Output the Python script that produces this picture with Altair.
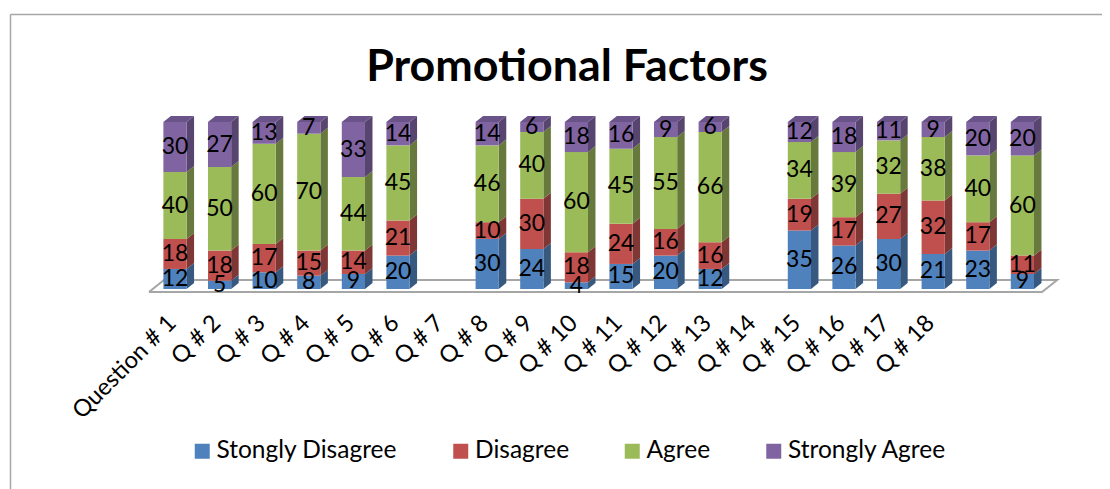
import altair as alt
import pandas as pd

categories = ["Question # 1", "Q # 2", "Q # 3", "Q # 4", "Q # 5", "Q # 6", "Q # 7", "Q # 8", "Q # 9",
              "Q # 10", "Q # 11", "Q # 12", "Q # 13", "Q # 14", "Q # 15", "Q # 16", "Q # 17", "Q # 18"]
series_names = ["Stongly Disagree", "Disagree", "Agree", "Strongly Agree"]
strongly_disagree = [12, 5, 10, 8, 9, 20, None, 30, 24, 4, 15, 20, 12, None, 35, 26, 30, 21, 23, 9]
disagree = [18, 18, 17, 15, 14, 21, None, 10, 30, 18, 24, 16, 16, None, 19, 17, 27, 32, 17, 11]
agree = [40, 50, 60, 70, 44, 45, None, 46, 40, 60, 45, 55, 66, None, 34, 39, 32, 38, 40, 60]
strongly_agree = [30, 27, 13, 7, 33, 14, None, 14, 6, 18, 16, 9, 6, None, 12, 18, 11, 9, 20, 20]
all_series = [strongly_disagree, disagree, agree, strongly_agree]

front_colors = ["#4f81bd", "#c0504d", "#9bbb59", "#8064a2"]
side_colors = ["#38597f", "#7f3735", "#67793c", "#57446f"]
top_color = "#6a5388"
GRAY = "#a6a6a6"
FONT = "Lato"

HALF = 0.26     # half a bar's width, in category slots
DX = 0.168      # depth of the bars, in slots
DY = 3.6        # depth of the bars, in value units

fronts, sides, tops = [], [], []
for k, name in enumerate(series_names):
    for i, v in enumerate(all_series[k]):
        if v is None:
            continue
        b = sum(all_series[j][i] for j in range(k))
        t = b + v
        l, r = i - HALF, i + HALF
        fronts.append({"series": name, "l": l, "r": r, "b": b, "t": t, "mid": (b + t) / 2, "i": i, "v": v})
        sid = f"s{k}-{i}"
        sides.append({"id": sid, "c": side_colors[k], "x": r, "y": b, "y2": t})
        sides.append({"id": sid, "c": side_colors[k], "x": r + DX, "y": b + DY, "y2": t + DY})
        if k == len(series_names) - 1:
            tid = f"t{i}"
            tops.append({"id": tid, "x": l, "y": t, "y2": t})
            tops.append({"id": tid, "x": l + DX, "y": t, "y2": t + DY})
            tops.append({"id": tid, "x": r, "y": t, "y2": t + DY})
            tops.append({"id": tid, "x": r + DX, "y": t + DY, "y2": t + DY})

floor_x = [-0.583, 19.44, 19.78, -0.247, -0.583]
floor_y = [-1.8, -1.8, 5.4, 5.4, -1.8]
floor = pd.DataFrame({"x": floor_x, "y": floor_y, "o": range(5)})

X = alt.Scale(domain=[-3.744, 20.785], nice=False, zero=False)
Y = alt.Scale(domain=[-5.39, 107.19], nice=False, zero=False)
label_js = "[" + ",".join(f"'{c}'" for c in categories) + "][datum.value]"

floor_line = alt.Chart(floor).mark_line(color=GRAY, strokeWidth=2, strokeJoin="miter").encode(
    x=alt.X("x:Q", scale=X, axis=alt.Axis(
        values=list(range(len(categories))), labelExpr=label_js, title=None, grid=False, domain=False,
        ticks=False, labelAngle=-45, labelAlign="right", labelBaseline="middle", labelFont=FONT,
        labelFontSize=23.6, labelColor="black", labelPadding=21, labelOffset=-3, labelOverlap=False,
        labelBound=False, labelFlush=False)),
    y=alt.Y("y:Q", scale=Y, axis=None),
    order="o:Q",
)

side_faces = alt.Chart(pd.DataFrame(sides)).mark_area(interpolate="linear").encode(
    x=alt.X("x:Q", scale=X), y=alt.Y("y:Q", scale=Y), y2="y2:Q", detail="id:N",
    fill=alt.Fill("c:N", scale=None, legend=None),
)
top_faces = alt.Chart(pd.DataFrame(tops)).mark_area(interpolate="linear", color=top_color).encode(
    x=alt.X("x:Q", scale=X), y=alt.Y("y:Q", scale=Y), y2="y2:Q", detail="id:N",
)
front_df = pd.DataFrame(fronts)
front_faces = alt.Chart(front_df).mark_rect().encode(
    x=alt.X("l:Q", scale=X), x2="r:Q", y=alt.Y("b:Q", scale=Y), y2="t:Q",
    color=alt.Color("series:N", scale=alt.Scale(domain=series_names, range=front_colors), legend=alt.Legend(
        orient="none", legendX=182, legendY=329, direction="horizontal", title=None, symbolType="square",
        symbolSize=225, symbolStrokeWidth=0, labelFont=FONT, labelFontSize=24.5, labelColor="black",
        columnPadding=50.5, labelOffset=2, gridAlign="none", labelLimit=400)),
)
labels = alt.Chart(front_df).mark_text(font=FONT, fontSize=23, color="black").encode(
    x=alt.X("i:Q", scale=X), y=alt.Y("mid:Q", scale=Y), text="v:Q",
)

frame_left = alt.Chart(pd.DataFrame({"a": [0]})).mark_rule(color=GRAY, strokeWidth=1.5).encode(
    x=alt.value(2.5), y=alt.value(-95.5), y2=alt.value(400))
frame_top = alt.Chart(pd.DataFrame({"a": [0]})).mark_rule(color=GRAY, strokeWidth=1.5).encode(
    x=alt.value(2.5), x2=alt.value(1094), y=alt.value(-95.5))

chart = alt.layer(frame_left, frame_top, floor_line, side_faces, top_faces, front_faces, labels).properties(
    width=1094, height=188,
    padding={"left": 0, "right": 0, "top": 102, "bottom": 191},
    autosize=alt.AutoSizeParams(type="none", contains="content"),
    title=alt.TitleParams("Promotional Factors", font=FONT, fontSize=44.8, fontWeight="bold", color="black",
                          anchor="middle", dx=12, offset=-77),
).configure_view(stroke=None)

chart.save("out.html", embed_options={"renderer": "svg", "actions": False})
